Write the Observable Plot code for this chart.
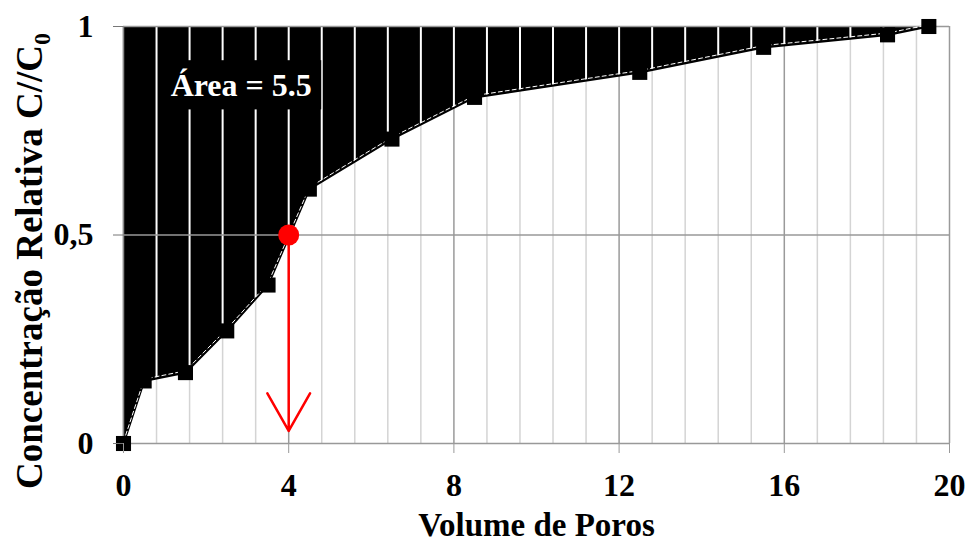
<!DOCTYPE html>
<html>
<head>
<meta charset="utf-8">
<script src="https://cdn.jsdelivr.net/npm/d3@7"></script>
<script src="https://cdn.jsdelivr.net/npm/@observablehq/plot@0.6"></script>
<style>
  html, body { margin: 0; padding: 0; background: #fff; }
</style>
</head>
<body>
<div id="chart"></div>
<script>
// Data
const volume = [0, 0.5, 1.5, 2.5, 3.5, 4.5, 6.5, 8.5, 12.5, 15.5, 18.5, 19.5];
const conc   = [0, 0.15, 0.17, 0.27, 0.38, 0.61, 0.73, 0.83, 0.89, 0.95, 0.98, 1.0];

const xTicks = [0, 4, 8, 12, 16, 20];
const yTicks = [0, 0.5, 1];
const yTickLabels = ["0", "0,5", "1"];
const gridX = d3.range(0, 26).map(i => i * 0.8); // minor grid every 0.8

const halfPoint = [{x: 4, y: 0.5}];
const arrowEnd = [{x1: 4, y1: 0.5, x2: 4, y2: 0.03}];
const areaLabel = [{x: 2.85, y: 0.859, x1: 0.9, x2: 4.8, y1: 0.80, y2: 0.918, text: "Área = 5.5"}];

const xTitle = "Volume de Poros";
const yTitle = "Concentração Relativa C//C";
const yTitleSub = "0";

const data = volume.map((v, i) => ({x: v, y: conc[i]}));
const interp = d3.scaleLinear().domain(volume).range(conc).clamp(true);
const gridData = gridX.map((g, i) => ({x: g, major: i % 5 === 0, yc: interp(g)}));

const font = "'Liberation Serif', 'Times New Roman', serif";

const chart = Plot.plot({
  width: 968,
  height: 550,
  marginLeft: 123,
  marginRight: 19,
  marginTop: 26,
  marginBottom: 107,
  x: {domain: [0, 20]},
  y: {domain: [0, 1]},
  style: {fontFamily: font, fontWeight: "bold", background: "white", color: "black", overflow: "visible"},
  marks: [
    // grid lines (background)
    Plot.ruleX(gridData.filter(d => !d.major), {x: "x", y1: 0, y2: 1, stroke: "#d4d4d4", strokeWidth: 1.5}),
    Plot.ruleX(gridData.filter(d => d.major), {x: "x", y1: 0, y2: 1, stroke: "#9a9a9a", strokeWidth: 1.5}),
    // black area above the curve
    Plot.area(data, {x1: "x", y1: "y", y2: 1, fill: "black", curve: "linear"}),
    // white grid lines inside the black area
    Plot.ruleX(gridData.filter(d => d.x > 0 && d.yc < 1), {x: "x", y1: "yc", y2: 1, stroke: "white", strokeWidth: 2}),
    // horizontal grid lines
    Plot.ruleY([0.5, 1], {stroke: "#999", strokeWidth: 1.5}),
    // axis lines
    Plot.ruleX([0], {stroke: "#888", strokeWidth: 1.5}),
    Plot.ruleY([0], {stroke: "#999", strokeWidth: 1.5}),
    // annotation box
    Plot.rect(areaLabel, {x1: "x1", x2: "x2", y1: "y1", y2: "y2", fill: "black"}),
    Plot.text(areaLabel, {x: "x", y: "y", text: "text", fill: "white", fontSize: 32, fontWeight: "bold", fontFamily: font}),
    // curve
    Plot.line(data, {x: "x", y: "y", stroke: "black", strokeWidth: 2.2, curve: "linear"}),
    Plot.line(data, {x: "x", y: "y", stroke: "white", strokeWidth: 1, strokeDasharray: "4,3", dy: -1.8, curve: "linear"}),
    Plot.dot(data, {x: "x", y: "y", symbol: "square", r: 8.5, fill: "black"}),
    // red marker and arrow
    Plot.arrow(arrowEnd, {x1: "x1", y1: "y1", x2: "x2", y2: "y2", stroke: "red", strokeWidth: 2.5, headLength: 26, headAngle: 59, insetStart: 0, insetEnd: 0}),
    Plot.dot(halfPoint, {x: "x", y: "y", r: 10.5, fill: "red"}),
    // axes
    Plot.axisX({ticks: xTicks, tickSize: 10, tickPadding: 20, fontSize: 32, fontWeight: "bold", stroke: "#999", fill: "black", label: null, tickFormat: d => String(d)}),
    Plot.axisY({ticks: yTicks, tickSize: 10, tickPadding: 20, fontSize: 32, fontWeight: "bold", stroke: "#777", fill: "black", label: null, tickFormat: d => yTickLabels[yTicks.indexOf(d)]}),
    // axis titles
    Plot.text([xTitle], {frameAnchor: "bottom", dy: 92, fontSize: 33, fontWeight: "bold", fontFamily: font, fill: "black"}),
    Plot.text([yTitle], {frameAnchor: "left", textAnchor: "middle", rotate: -90, dx: -93, dy: 26, fontSize: 37, fontWeight: "bold", fontFamily: font, fill: "black"})
  ]
});

document.getElementById("chart").appendChild(chart);

// add subscript to the y title
d3.select(chart).selectAll("text")
  .filter(function () { return this.textContent === yTitle; })
  .append("tspan")
  .attr("dy", "0.3em")
  .attr("font-size", "24px")
  .text(yTitleSub);
</script>
</body>
</html>
